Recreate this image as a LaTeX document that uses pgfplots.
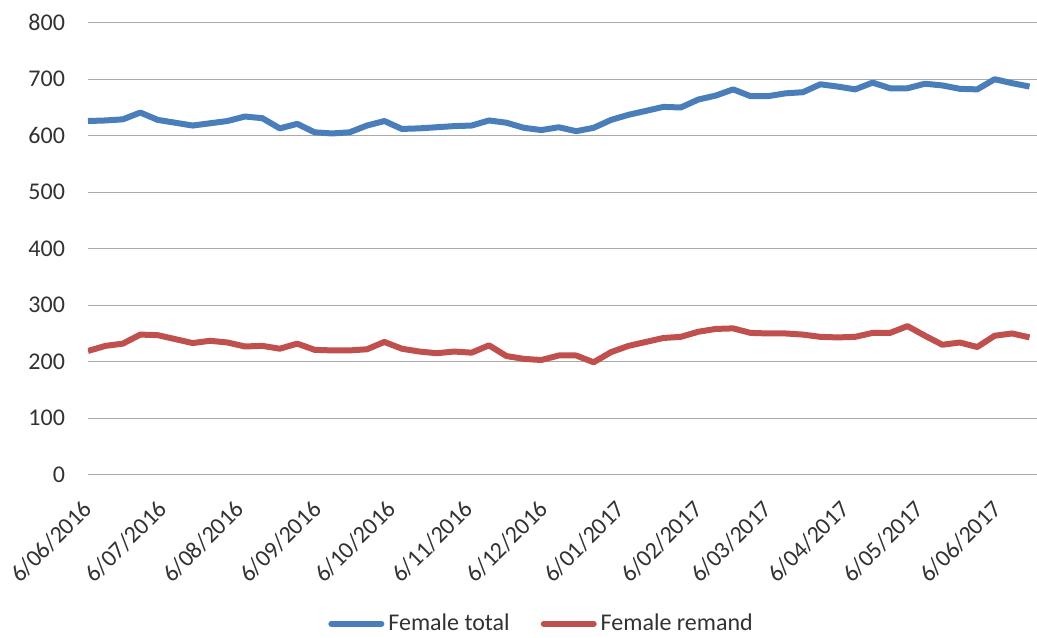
\documentclass[border=0pt]{standalone}
\usepackage{pgfplots}
\pgfplotsset{compat=1.18}
\usepackage{pgfplotstable}
\usepackage{fontspec}
\setmainfont{Carlito}
\definecolor{ftotal}{RGB}{74,126,187}
\definecolor{fremand}{RGB}{192,80,77}
\definecolor{gridc}{RGB}{170,170,170}
\definecolor{txt}{RGB}{50,50,50}
\pgfplotstableread{
day total remand
0 626 219
7 627 228
14 629 232
21 641 248
28 628 247
35 623 240
42 618 233
49 622 237
56 626 234
63 634 227
70 631 228
77 613 223
84 621 232
91 606 221
98 604 220
105 606 220
112 618 222
119 626 235
126 612 223
133 613 218
140 615 215
147 617 218
154 618 216
161 627 229
168 623 210
175 614 205
182 610 203
189 615 211
196 608 211
203 614 199
210 628 217
217 637 228
224 644 235
231 651 242
238 650 244
245 664 253
252 671 258
259 682 259
266 670 251
273 670 250
280 675 250
287 677 248
294 691 244
301 687 243
308 682 244
315 694 251
322 684 251
329 684 263
336 692 246
343 689 230
350 683 234
357 682 226
364 700 246
371 693 250
378 687 243
}\datatable
\begin{document}
\begin{tikzpicture}
\useasboundingbox (-44pt,-81.15pt) rectangle (474.5pt,237.35pt);
\begin{axis}[
  scale only axis,
  width=474.5pt, height=226pt,
  xmin=0, xmax=381, ymin=0, ymax=800,
  ytick={0,100,...,800},
  xtick={0,30,61,92,122,153,183,214,245,273,304,334,365},
  xticklabels={6/06/2016,6/07/2016,6/08/2016,6/09/2016,6/10/2016,6/11/2016,6/12/2016,6/01/2017,6/02/2017,6/03/2017,6/04/2017,6/05/2017,6/06/2017},
  axis line style={draw=none},
  major tick length=0pt,
  ymajorgrids,
  grid style={gridc, line width=0.6pt},
  tick label style={font=\fontsize{12}{14}\selectfont, text=txt},
  /pgf/number format/assume math mode=true,
  yticklabel style={xshift=-8pt},
  xticklabel style={rotate=45, anchor=east, yshift=-10.7pt, xshift=-7.2pt},
  legend style={draw=none, at={(0.479,-0.33)}, anchor=center, legend columns=2,
    font=\fontsize{12}{14}\selectfont, text=txt,
    /tikz/every even column/.append style={column sep=13.5pt}},
  legend image code/.code={\draw[#1,line cap=round] (0pt,0pt) -- (25pt,0pt);},
]
\addplot[ftotal, line width=3pt, line join=round] table[x=day,y=total]{\datatable};
\addlegendentry{Female total}
\addplot[fremand, line width=3pt, line join=round] table[x=day,y=remand]{\datatable};
\addlegendentry{Female remand}
\end{axis}
\end{tikzpicture}
\end{document}
